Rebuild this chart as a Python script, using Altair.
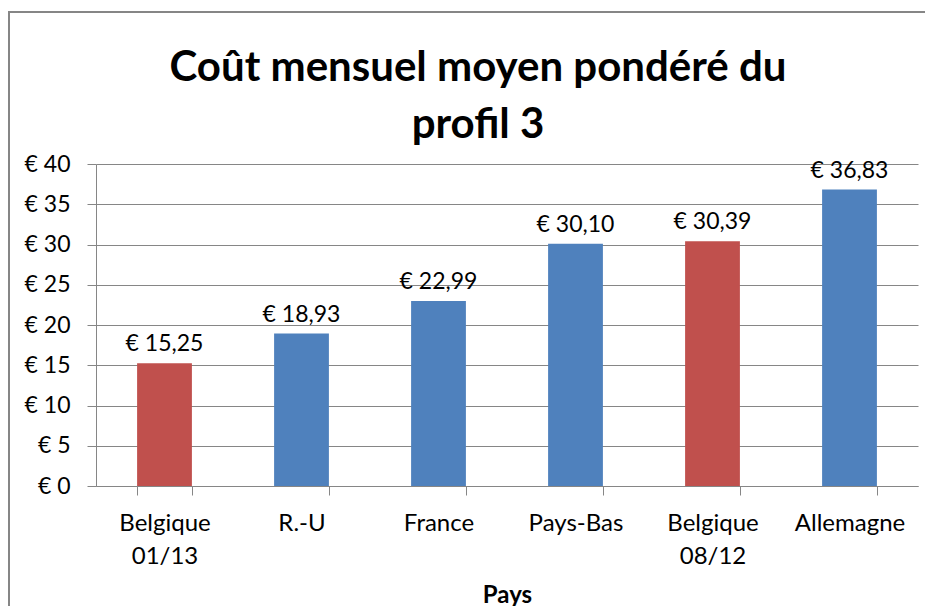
import altair as alt
import pandas as pd

pays = ["Belgique\n01/13", "R.-U", "France", "Pays-Bas", "Belgique\n08/12", "Allemagne"]
cout = [15.25, 18.93, 22.99, 30.10, 30.39, 36.83]
belgique = ["oui", "non", "non", "non", "oui", "non"]

df = pd.DataFrame({"pays": pays, "cout": cout, "belgique": belgique})

FONT = "Lato"
GRAY = "#868686"

base = alt.Chart(df).encode(
    x=alt.X(
        "pays:N",
        sort=pays,
        scale=alt.Scale(paddingInner=0.6, paddingOuter=0.3),
        axis=alt.Axis(
            title="Pays",
            titleFont=FONT,
            titleFontSize=24,
            titleFontWeight="bold",
            titleColor="#000000",
            titlePadding=15,
            labelFont=FONT,
            labelFontSize=24,
            labelColor="#000000",
            labelAngle=0,
            labelPadding=16,
            labelLineHeight=33,
            labelExpr="split(datum.label, '\\n')",
            tickBand="extent",
            tickSize=9,
            tickColor=GRAY,
            domainColor=GRAY,
            domainWidth=1,
            grid=False,
        ),
    ),
)

bars = base.mark_bar().encode(
    y=alt.Y(
        "cout:Q",
        scale=alt.Scale(domain=[0, 40], nice=False),
        axis=alt.Axis(
            title=None,
            values=[0, 5, 10, 15, 20, 25, 30, 35, 40],
            labelExpr="'€ ' + datum.value",
            labelFont=FONT,
            labelFontSize=23,
            labelColor="#000000",
            labelPadding=17,
            tickSize=9,
            tickColor=GRAY,
            domainColor=GRAY,
            gridColor=GRAY,
            gridWidth=1,
        ),
    ),
    color=alt.Color(
        "belgique:N",
        scale=alt.Scale(domain=["oui", "non"], range=["#C0504D", "#4F81BD"]),
        legend=None,
    ),
)

labels = base.transform_calculate(
    lbl="'€ ' + replace(format(datum.cout, '.2f'), '.', ',')"
).mark_text(
    font=FONT, fontSize=23, baseline="alphabetic", dy=-12, color="#000000"
).encode(
    y=alt.Y("cout:Q"),
    text="lbl:N",
)

frame = alt.Chart(alt.Data(values=[{"a": 1}])).mark_rect(
    fill=None, stroke=GRAY, strokeWidth=2
).encode(
    x=alt.value(-87), x2=alt.value(900), y=alt.value(-152), y2=alt.value(700)
)

chart = alt.layer(frame, bars, labels).properties(
    width=822,
    height=322,
    title=alt.TitleParams(
        text=["Coût mensuel moyen pondéré du", "profil 3"],
        font=FONT,
        fontSize=42,
        fontWeight="bold",
        color="#000000",
        lineHeight=57,
        anchor="middle",
        frame="group",
        baseline="alphabetic",
        dx=-29,
        dy=169,
        offset=0,
    ),
    autosize=alt.AutoSizeParams(type="none"),
    padding={"left": 88, "top": 156, "right": 7, "bottom": 120},
).configure_view(stroke=None)

chart.save("out.html", embed_options={"renderer": "svg", "actions": False})
